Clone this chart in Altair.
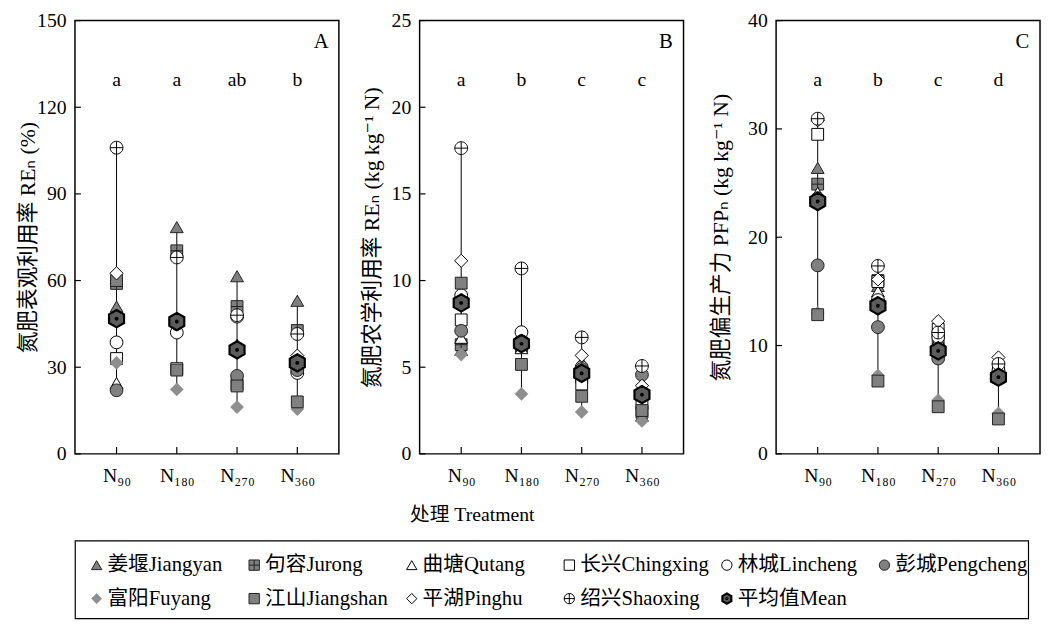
import re
import altair as alt
import pandas as pd

FONT = "Liberation Serif, Noto Sans CJK SC, DejaVu Sans"
SERIF = "Liberation Serif"
CJK = "Noto Sans CJK SC"

treatments = ["N₉₀", "N₁₈₀", "N₂₇₀", "N₃₆₀"]
sites = ["姜堰Jiangyan", "句容Jurong", "曲塘Qutang", "长兴Chingxing", "林城Lincheng",
         "彭城Pengcheng", "富阳Fuyang", "江山Jiangshan", "平湖Pinghu", "绍兴Shaoxing", "平均值Mean"]

# Panel A: RE_N (%), values in site order for each treatment
A_N90 = [51, 59, 24.5, 33, 38.6, 22, 31.5, 60, 62.5, 106, 46.8]
A_N180 = [78.5, 70.3, 46, 29.5, 42, 45, 22.3, 29, 46, 68, 45.8]
A_N270 = [61.5, 51, 37.8, 24, 47.5, 27, 16.2, 23.5, 37, 48, 36]
A_N360 = [53, 42.7, 33, 30, 28, 29, 15.5, 18, 34, 41.5, 31.5]

# Panel B: AE_N (kg/kg N)
B_N90 = [6.0, 6.3, 6.7, 7.73, 9.15, 7.1, 5.73, 9.85, 11.14, 17.64, 8.71]
B_N180 = [6.5, 6.2, 6.1, 6.4, 7.02, 6.5, 3.46, 5.16, 6.3, 10.7, 6.36]
B_N270 = [5.2, 4.4, 5.3, 4.03, 5.0, 4.9, 2.42, 3.32, 5.68, 6.72, 4.65]
B_N360 = [2.2, 2.4, 3.7, 2.9, 3.5, 4.56, 1.9, 2.5, 3.93, 5.07, 3.42]

# Panel C: PFP_N (kg/kg N)
C_N90 = [26.4, 24.9, 24.1, 29.5, 23.6, 17.4, 13.0, 12.85, 30.8, 30.94, 23.3]
C_N180 = [15.5, 16.0, 15.0, 15.9, 14.2, 11.7, 7.24, 6.72, 16.1, 17.35, 13.67]
C_N270 = [10.0, 10.2, 10.5, 11.5, 10.8, 8.8, 4.95, 4.35, 12.25, 11.2, 9.51]
C_N360 = [7.5, 7.6, 7.8, 8.0, 7.7, 7.0, 3.74, 3.22, 8.9, 8.3, 7.08]

A_letters = ["a", "a", "ab", "b"]
B_letters = ["a", "b", "c", "c"]
C_letters = ["a", "b", "c", "d"]

A_ticks = [0, 30, 60, 90, 120, 150]
B_ticks = [0, 5, 10, 15, 20, 25]
C_ticks = [0, 10, 20, 30, 40]

# marker styles
JURONG = "M-1,-1H1V1H-1Z M0,-1V1 M-1,0H1"
SHAOXING = "M1,0A1,1,0,1,1,-1,0A1,1,0,1,1,1,0Z M-1,0H1 M0,-1V1"
MEAN = ("M0,-1L0.866,-0.5L0.866,0.5L0,1L-0.866,0.5L-0.866,-0.5Z "
        "M0.1,0A0.1,0.1,0,1,1,-0.1,0A0.1,0.1,0,1,1,0.1,0Z")
shapes = ["triangle-up", JURONG, "triangle-up", "square", "circle", "circle",
          "diamond", "square", "diamond", SHAOXING, MEAN]
fills = ["#808080", "#808080", "white", "white", "white", "#808080",
         "#8e8e8e", "#808080", "white", "white", "#5c5c5c"]
strokes = ["#222222", "#222222", "black", "black", "black", "#222222",
           "#8e8e8e", "#222222", "black", "black", "black"]
swidths = [1, 1, 1, 1, 1, 1, 0.5, 1, 1, 1, 2.2]
sizes = [170, 144, 170, 144, 169, 169, 180, 144, 180, 169, 310]

W, H = 268, 440
shape_sc = alt.Scale(domain=sites, range=shapes)
fill_sc = alt.Scale(domain=sites, range=fills)
stroke_sc = alt.Scale(domain=sites, range=strokes)
sw_sc = alt.Scale(type="ordinal", domain=sites, range=swidths)


def make_df(cols):
    rows = []
    for si, s in enumerate(sites):
        for ti, t in enumerate(treatments):
            rows.append({"site": s, "sz": s, "treatment": t, "value": cols[ti][si]})
    return pd.DataFrame(rows)


def panel(cols, ytitle, ymax, yticks, letters, tag, titleX, xtitle):
    df = make_df(cols)
    if xtitle:
        xaxis = alt.Axis(
            title=xtitle, labelFont=FONT, labelFontSize=20, labelColor="black", labelAngle=0,
            labelPadding=12, ticks=False, domain=False, grid=False,
            titleFont=FONT, titleFontSize=20, titleFontWeight="normal", titleColor="black",
            titlePadding=20, titleX=53,
        )
    else:
        xaxis = alt.Axis(
            title=None, labelFont=FONT, labelFontSize=20, labelColor="black", labelAngle=0,
            labelPadding=12, ticks=False, domain=False, grid=False,
        )
    xenc = alt.X("treatment:N", sort=treatments,
                 scale=alt.Scale(type="point", padding=0.69), axis=xaxis)
    yscale = alt.Scale(domain=[0, ymax], nice=False, zero=True)
    yaxis = alt.Axis(
        title=ytitle, values=yticks, labelFont=FONT, labelFontSize=20, labelColor="black",
        labelPadding=9, ticks=False, domain=False, grid=False,
        titleFont=FONT, titleFontSize=22, titleFontWeight="normal", titleColor="black",
        titleX=titleX, titleBaseline="middle", titleAngle=270,
    )

    rule = alt.Chart(df).mark_rule(color="black", strokeWidth=1).encode(
        x=xenc,
        y=alt.Y("min(value):Q", scale=yscale, axis=yaxis),
        y2="max(value):Q",
    )
    pts = alt.Chart(df).mark_point(filled=True, opacity=1).encode(
        x=xenc,
        y=alt.Y("value:Q", scale=yscale, axis=yaxis),
        shape=alt.Shape("site:N", scale=shape_sc, legend=None),
        fill=alt.Fill("site:N", scale=fill_sc, legend=None),
        stroke=alt.Stroke("site:N", scale=stroke_sc, legend=None),
        strokeWidth=alt.StrokeWidth("site:N", scale=sw_sc, legend=None),
        size=alt.Size("sz:N", scale=alt.Scale(type="ordinal", domain=sites, range=sizes),
                      legend=None),
    )
    ytk = alt.Chart(pd.DataFrame({"v": yticks})).mark_rule(color="black", strokeWidth=1.2).encode(
        y=alt.Y("v:Q", scale=yscale, axis=yaxis), x=alt.value(0), x2=alt.value(6)
    )
    xtk = alt.Chart(pd.DataFrame({"treatment": treatments})).mark_rule(
        color="black", strokeWidth=1.2).encode(x=xenc, y=alt.value(H), y2=alt.value(H - 7))
    lt = alt.Chart(pd.DataFrame({"treatment": treatments, "lab": letters})).mark_text(
        font=FONT, fontSize=20, baseline="middle", color="black").encode(
        x=xenc, y=alt.value(60), text="lab:N")
    tg = alt.Chart(pd.DataFrame({"t": [tag]})).mark_text(
        font=FONT, fontSize=21, baseline="middle", align="center", color="black").encode(
        x=alt.value(W - 18), y=alt.value(22), text="t:N")
    return alt.layer(ytk, xtk, rule, pts, lt, tg).properties(width=W, height=H)


pA = panel([A_N90, A_N180, A_N270, A_N360], "氮肥表观利用率 REₙ (%)", 150, A_ticks,
           A_letters, "A", -48, None)
pB = panel([B_N90, B_N180, B_N270, B_N360], "氮肥农学利用率 REₙ (kg kg⁻¹ N)", 25, B_ticks,
           B_letters, "B", -49, "处理 Treatment")
pC = panel([C_N90, C_N180, C_N270, C_N360], "氮肥偏生产力 PFPₙ (kg kg⁻¹ N)", 40, C_ticks,
           C_letters, "C", -56, None)

# ---- legend drawn as its own small chart (6 columns x 2 rows) ----
cjk_part = [re.match(r"[^A-Za-z]+", s).group(0) for s in sites]
lat_part = [s[len(c):] for s, c in zip(sites, cjk_part)]
leg_df = pd.DataFrame({
    "site": sites,
    "cjk": cjk_part,
    "lat": lat_part,
    "ncjk": [len(c) for c in cjk_part],
    "col": [i % 6 for i in range(len(sites))],
    "row": [i // 6 for i in range(len(sites))],
})
LW, LH = 968, 79
FS = 21
lx = alt.X("col:Q", scale=alt.Scale(domain=[0, 5], range=[22, 822]), axis=None)
ly = alt.Y("row:Q", scale=alt.Scale(domain=[0, 1], range=[25, 59]),
           axis=alt.Axis(labels=False, ticks=False, domain=False, grid=False,
                         title="氮", titleOpacity=0, titleFont=FONT, titleFontSize=22,
                         titleX=-48, titleBaseline="middle", titleAngle=270))
leg_base = alt.Chart(leg_df)
leg_sym = leg_base.mark_point(filled=True, opacity=1, size=110).encode(
    x=lx, y=ly,
    shape=alt.Shape("site:N", scale=shape_sc, legend=None),
    fill=alt.Fill("site:N", scale=fill_sc, legend=None),
    stroke=alt.Stroke("site:N", scale=stroke_sc, legend=None),
    strokeWidth=alt.StrokeWidth("site:N", scale=sw_sc, legend=None),
)
leg_cjk = leg_base.mark_text(
    font=CJK, fontSize=FS, align="left", baseline="middle", dx=11, color="black").encode(
    x=lx, y=ly, text="cjk:N")
leg_lat2 = leg_base.transform_filter("datum.ncjk == 2").mark_text(
    font=SERIF, fontSize=FS, align="left", baseline="middle", dx=11 + 2 * FS,
    color="black").encode(x=lx, y=ly, text="lat:N")
leg_lat3 = leg_base.transform_filter("datum.ncjk == 3").mark_text(
    font=SERIF, fontSize=FS, align="left", baseline="middle", dx=11 + 3 * FS,
    color="black").encode(x=lx, y=ly, text="lat:N")
legend_chart = alt.layer(leg_sym, leg_cjk, leg_lat2, leg_lat3).properties(
    width=LW, height=LH, view=alt.ViewBackground(stroke="black", strokeWidth=1.2))

top = alt.hconcat(pA, alt.hconcat(pB, pC, spacing=25), spacing=20)
chart = alt.vconcat(top, legend_chart, spacing=14).properties(
    padding={"left": 8, "top": -3, "right": 0, "bottom": 0}, background="white"
).configure_view(stroke="black", strokeWidth=1.5)

chart.save("out.html", embed_options={"renderer": "svg", "actions": False})
